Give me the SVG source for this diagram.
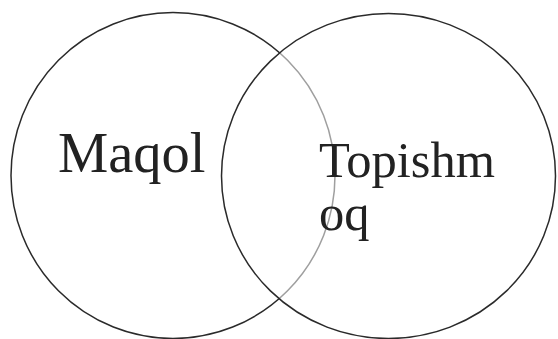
<svg xmlns="http://www.w3.org/2000/svg" width="558" height="339" viewBox="0 0 558 339">
<style>
.c{fill:none;stroke:#2a2a2a;stroke-width:1.5}
.t{font-family:"Liberation Serif","Times New Roman",serif;fill:#222}
</style>
<rect width="558" height="339" fill="#fff"/>
<g id="maqol">
<ellipse class="c" cx="173" cy="175.5" rx="162" ry="163"/>
<text class="t" x="58" y="172" font-size="56.5">Maqol</text>
</g>
<g id="topishmoq">
<ellipse cx="388.5" cy="176" rx="167" ry="162.5" fill="#fff" fill-opacity="0.55" stroke="#2a2a2a" stroke-width="1.5"/>
<text class="t" font-size="50.5"><tspan x="319" y="177">Topishm</tspan><tspan x="319" y="230">oq</tspan></text>
</g>
<g id="connectors"/>
</svg>
